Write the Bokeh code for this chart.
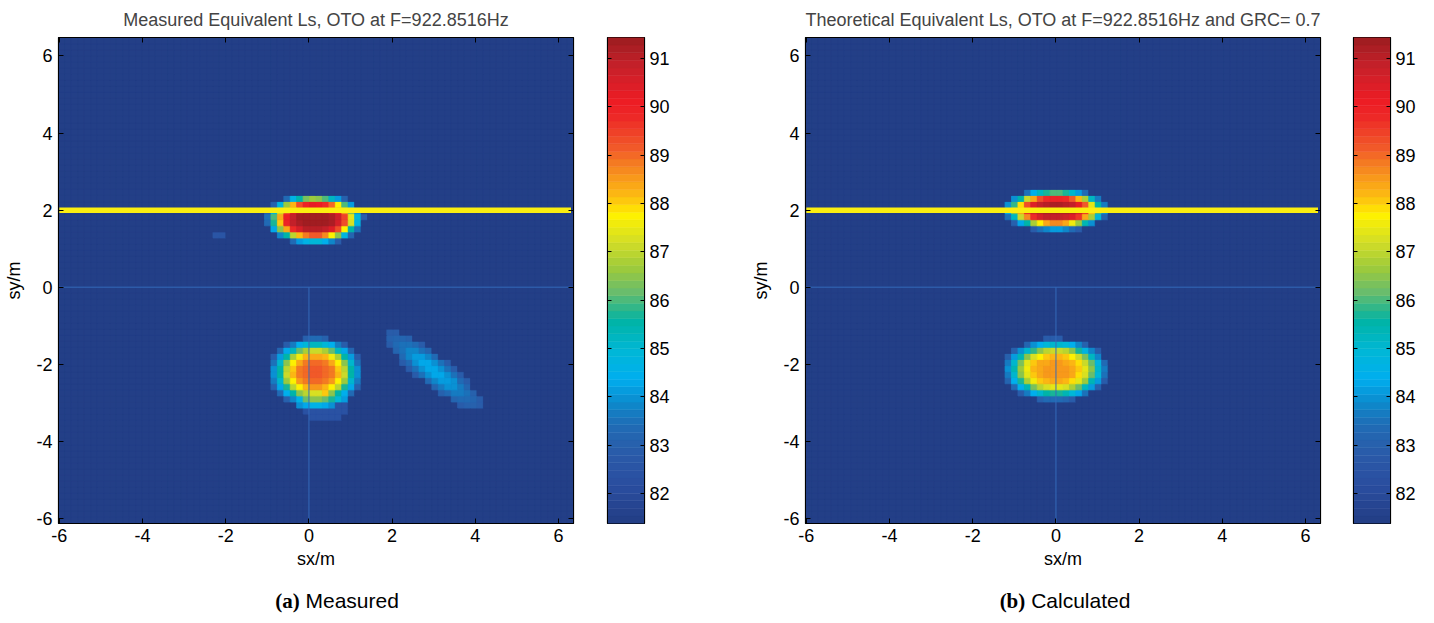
import numpy as np
from bokeh.plotting import figure
from bokeh.models import ColumnDataSource, LinearAxis, FixedTicker, Div, Range1d
from bokeh.layouts import row, column
from bokeh.transform import linear_cmap
from bokeh.embed import file_html
from bokeh.resources import INLINE

# ---------------- data ----------------
titles = ["Measured Equivalent Ls, OTO at F=922.8516Hz",
          "Theoretical Equivalent Ls, OTO at F=922.8516Hz and GRC= 0.7"]
captions = [("(a)", "Measured"), ("(b)", "Calculated")]
x_ticks = [-6, -4, -2, 0, 2, 4, 6]
y_ticks = [-6, -4, -2, 0, 2, 4, 6]
tick_labels = ["-6", "-4", "-2", "0", "2", "4", "6"]
cbar_ticks = [82, 83, 84, 85, 86, 87, 88, 89, 90, 91]
level_low = 81.38
level_high = 91.43
floor_level = 81.40
edge_level = 1.4

grid_x = [-6.02, 6.36]
grid_y = [-6.13, 6.48]
n_cells = 80

# blobs (centre, semi-axes, rotation, height above floor, flatness)
meas_cx = [0.14, 0.17, 0.38, 3.00, -2.15]
meas_cy = [1.78, -2.20, -3.10, -2.15, 1.33]
meas_rx = [1.20, 1.14, 0.62, 1.50, 0.20]
meas_ry = [0.67, 0.93, 0.36, 0.38, 0.10]
meas_ang = [0, 0, 0, -41, 0]
meas_amp = [10.0, 7.7, 1.0, 3.0, 1.2]
meas_q = [4.5, 3.5, 2.0, 2.0, 2.0]

theo_cx = [0.0, 0.0]
theo_cy = [2.02, -2.13]
theo_rx = [1.30, 1.28]
theo_ry = [0.56, 0.82]
theo_ang = [0, 0]
theo_amp = [9.8, 7.1]
theo_q = [4.0, 4.0]

yellow_x = [-6.0, 6.3]
yellow_y = [2.0, 2.0]
zero_h_x = [-6.02, 6.36]
zero_h_y = [0.0, 0.0]
zero_v_x = [0.0, 0.0]
zero_v_y = [0.0, -6.13]

# colour scale (fraction of range from bottom, colour)
cmap_pos = [0.0, 0.07, 0.14, 0.20, 0.245, 0.294, 0.35, 0.413, 0.44, 0.476,
            0.525, 0.58, 0.637, 0.672, 0.72, 0.777, 0.84, 0.875, 0.945, 1.0]
cmap_hex = ["#233f87", "#2a4d9f", "#2a5ba9", "#1f6db6", "#0c8acd", "#00aeef",
            "#00b7d8", "#00b4a8", "#2ab68c", "#6abd6c", "#9cca3c", "#d2dd27",
            "#fff200", "#fdc010", "#f7941d", "#f15a29", "#ed2a27", "#ed1c24",
            "#c8202a", "#a11d21"]


def build_palette(n=64):
    rgb = np.array([[int(h[i:i + 2], 16) for i in (1, 3, 5)] for h in cmap_hex], float)
    out = []
    for i in range(n):
        f = i / (n - 1)
        c = [np.interp(f, cmap_pos, rgb[:, k]) for k in range(3)]
        out.append("#%02x%02x%02x" % tuple(int(round(v)) for v in c))
    return out


palette = build_palette(64)

xe = np.linspace(grid_x[0], grid_x[1], n_cells + 1)
ye = np.linspace(grid_y[0], grid_y[1], n_cells + 1)
xc = (xe[:-1] + xe[1:]) / 2
yc = (ye[:-1] + ye[1:]) / 2
dx = xe[1] - xe[0]
dy = ye[1] - ye[0]


def build_field(cx, cy, rx, ry, ang, amp, q):
    X, Y = np.meshgrid(xc, yc)
    Z = np.full(X.shape, floor_level)
    for a, b, sa, sb, t, A, e in zip(cx, cy, rx, ry, ang, amp, q):
        th = np.deg2rad(t)
        ddx = X - a
        ddy = Y - b
        u = ddx * np.cos(th) + ddy * np.sin(th)
        v = -ddx * np.sin(th) + ddy * np.cos(th)
        r = np.sqrt((u / sa) ** 2 + (v / sb) ** 2)
        k = np.log(A / edge_level) if A > edge_level else 0.0
        Z += np.where(r <= 1, A * np.exp(-k * r ** e), 0.0)
    Z = np.clip(Z, level_low, level_high)
    return X.ravel(), Y.ravel(), Z.ravel()


fields = [build_field(meas_cx, meas_cy, meas_rx, meas_ry, meas_ang, meas_amp, meas_q),
          build_field(theo_cx, theo_cy, theo_rx, theo_ry, theo_ang, theo_amp, theo_q)]

FONT = "Liberation Sans"
FS = "18px"


def style_axis(ax, ticks, show_labels=True):
    ax.ticker = FixedTicker(ticks=ticks)
    ax.major_tick_in = 5
    ax.major_tick_out = 0
    ax.minor_tick_line_color = None
    ax.axis_line_color = "black"
    ax.major_tick_line_color = "black"
    ax.major_label_text_font = FONT
    ax.axis_label_text_font = FONT
    ax.axis_label_text_font_size = FS
    ax.axis_label_text_font_style = "normal"
    ax.axis_label_text_color = "black"
    if show_labels:
        ax.major_label_text_font_size = FS
        ax.major_label_text_color = "black"
    else:
        ax.major_label_text_font_size = "1px"
        ax.major_label_text_color = None
        ax.major_label_standoff = 0


def main_fig(idx, border_left):
    X, Y, Z = fields[idx]
    p = figure(frame_width=515, frame_height=486,
               x_range=Range1d(grid_x[0], grid_x[1]), y_range=Range1d(grid_y[0], grid_y[1]),
               output_backend="svg", toolbar_location=None,
               min_border_left=border_left, min_border_right=10,
               min_border_top=36, min_border_bottom=55,
               background_fill_color=palette[0], border_fill_color="white",
               outline_line_color="black", outline_line_width=1.2)
    p.title.text = titles[idx]
    p.title.text_font = FONT
    p.title.text_font_size = FS
    p.title.text_font_style = "normal"
    p.title.text_line_height = 1.0
    p.title.align = "center"
    p.title.standoff = 15
    p.grid.visible = False
    src = ColumnDataSource(dict(x=X, y=Y, v=Z))
    cm = linear_cmap("v", palette, level_low, level_high)
    p.rect(x="x", y="y", width=dx, height=dy, source=src,
           fill_color=cm, line_color=cm, line_width=0.8)
    p.line(zero_h_x, zero_h_y, line_color="#346cbc", line_alpha=0.65, line_width=1.5)
    p.line(zero_v_x, zero_v_y, line_color="#346cbc", line_alpha=0.65, line_width=1.5)
    p.line(yellow_x, yellow_y, line_color="#fbee10", line_width=5.5)
    style_axis(p.xaxis[0], x_ticks)
    style_axis(p.yaxis[0], y_ticks)
    p.xaxis.major_label_overrides = dict(zip(x_ticks, tick_labels))
    p.yaxis.major_label_overrides = dict(zip(y_ticks, tick_labels))
    p.xaxis.axis_label = "sx/m"
    p.yaxis.axis_label = "sy/m"
    p.xaxis.major_label_standoff = 5
    p.yaxis.major_label_standoff = 6
    p.xaxis.axis_label_standoff = 4
    p.yaxis.axis_label_standoff = 9
    top = LinearAxis()
    right = LinearAxis()
    style_axis(top, x_ticks, False)
    style_axis(right, y_ticks, False)
    p.add_layout(top, "above")
    p.add_layout(right, "right")
    return p


def cbar_fig(border_left, border_right):
    edges = np.linspace(level_low, level_high, len(palette) + 1)
    src = ColumnDataSource(dict(bottom=edges[:-1], top=edges[1:], c=palette))
    p = figure(frame_width=37, frame_height=486,
               x_range=Range1d(0, 1), y_range=Range1d(level_low, level_high),
               output_backend="svg", toolbar_location=None,
               min_border_left=border_left, min_border_right=border_right,
               min_border_top=37, min_border_bottom=54,
               y_axis_location="right", outline_line_color="black", outline_line_width=1.2)
    p.quad(left=0, right=1, bottom="bottom", top="top", fill_color="c",
           line_color="c", line_width=0.5, source=src)
    p.xaxis.visible = False
    p.grid.visible = False
    ax = p.yaxis[0]
    style_axis(ax, cbar_ticks)
    ax.major_tick_in = 4
    ax.major_label_standoff = 5
    lax = LinearAxis()
    style_axis(lax, cbar_ticks, False)
    lax.major_tick_in = 4
    p.add_layout(lax, "left")
    return p


pA = main_fig(0, 58)
cA = cbar_fig(24, 50)
pB = main_fig(1, 111)
cB = cbar_fig(23, 30)


def cap_span(center, lab, word):
    return ('<span style="position:absolute;left:%dpx;top:11px;transform:translateX(-50%%);'
            'white-space:nowrap;font-size:21px;line-height:24px;color:black;">'
            '<b style="font-family:\'Liberation Serif\';">%s</b> '
            '<span style="font-family:\'Liberation Sans\';">%s</span></span>') % (center, lab, word)


cap_html = ('<div style="position:relative;width:1420px;height:38px;">'
            + cap_span(337, captions[0][0], captions[0][1])
            + cap_span(1065, captions[1][0], captions[1][1])
            + '</div>')
caps = Div(text=cap_html, width=1420, height=38, margin=(0, 0, 0, 0))

layout = column(row(pA, cA, pB, cB, spacing=0), caps, spacing=0)

open("out.html", "w").write(file_html(layout, INLINE))
